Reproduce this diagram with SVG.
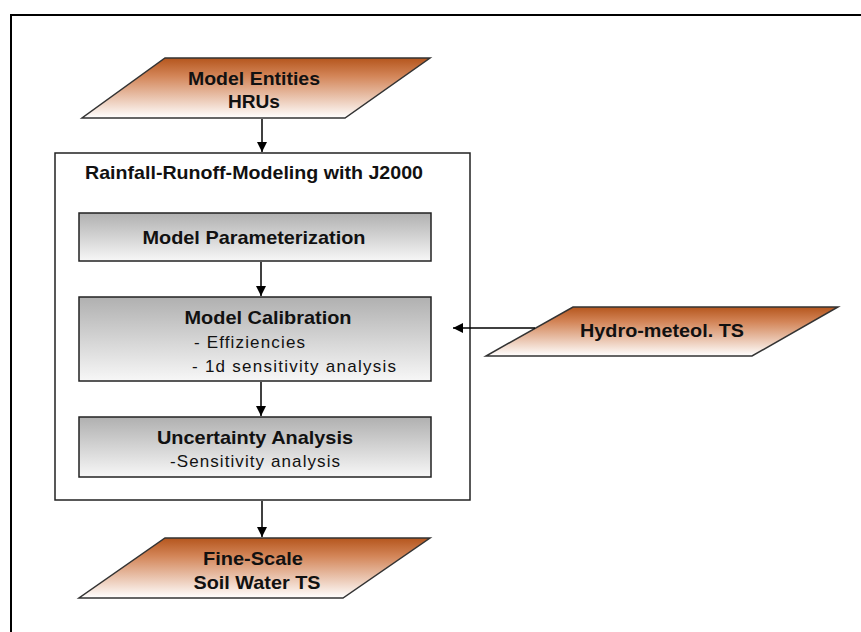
<svg xmlns="http://www.w3.org/2000/svg" width="861" height="632" viewBox="0 0 861 632">
<defs>
<linearGradient id="orange" x1="0" y1="0" x2="0" y2="1">
<stop offset="0" stop-color="#b5561d"/>
<stop offset="0.3" stop-color="#d38558"/>
<stop offset="1" stop-color="#ffffff"/>
</linearGradient>
<linearGradient id="gray" x1="0" y1="0" x2="0" y2="1">
<stop offset="0" stop-color="#b0b0b0"/>
<stop offset="1" stop-color="#f7f7f7"/>
</linearGradient>
<marker id="arr" viewBox="0 0 10 10" refX="10" refY="5" markerWidth="10" markerHeight="10" markerUnits="userSpaceOnUse" orient="auto">
<path d="M0,0 L10,5 L0,10 Z" fill="#000"/>
</marker>
<style>
.para{fill:url(#orange);stroke:#333;stroke-width:1.5}
.box{fill:url(#gray);stroke:#222;stroke-width:1.5}
.b{font-family:"Liberation Sans",Arial,sans-serif;font-weight:bold;font-size:18.5px;fill:#111}
.n{font-family:"Liberation Sans",Arial,sans-serif;font-size:17px;fill:#111}
.c{stroke:#000;stroke-width:1.5;fill:none;marker-end:url(#arr)}
</style>
</defs>
<rect width="861" height="632" fill="#fff"/>
<g id="frame">
<path d="M11,632 L11,15 L861,15" fill="none" stroke="#000" stroke-width="2"/>
</g>
<g id="model-entities">
<polygon class="para" points="165,58 430,58 345,118 82,118"/>
<text class="b" x="254" y="85" text-anchor="middle" textLength="132" lengthAdjust="spacingAndGlyphs">Model Entities</text>
<text class="b" x="254" y="108" text-anchor="middle" textLength="52" lengthAdjust="spacingAndGlyphs">HRUs</text>
</g>
<g id="j2000">
<rect x="55" y="153" width="415" height="347" fill="#fff" stroke="#222" stroke-width="1.5"/>
<text class="b" x="254" y="179" text-anchor="middle" textLength="338" lengthAdjust="spacingAndGlyphs">Rainfall-Runoff-Modeling with J2000</text>
</g>
<g id="parameterization">
<rect class="box" x="79" y="213" width="352" height="48"/>
<text class="b" x="254" y="244" text-anchor="middle" textLength="223" lengthAdjust="spacingAndGlyphs">Model Parameterization</text>
</g>
<g id="calibration">
<rect class="box" x="79" y="297" width="352" height="84"/>
<text class="b" x="268" y="324" text-anchor="middle" textLength="167" lengthAdjust="spacingAndGlyphs">Model Calibration</text>
<text class="n" x="194" y="348" textLength="111" lengthAdjust="spacing">- Effiziencies</text>
<text class="n" x="192" y="372" textLength="204" lengthAdjust="spacing">- 1d sensitivity analysis</text>
</g>
<g id="uncertainty">
<rect class="box" x="79" y="417" width="352" height="60"/>
<text class="b" x="255" y="444" text-anchor="middle" textLength="196" lengthAdjust="spacingAndGlyphs">Uncertainty Analysis</text>
<text class="n" x="255" y="467" text-anchor="middle" textLength="170" lengthAdjust="spacing">-Sensitivity analysis</text>
</g>
<g id="hydro-meteol">
<polygon class="para" points="573,307 838,307 752,356 486,356"/>
<text class="b" x="662" y="337" text-anchor="middle" textLength="164" lengthAdjust="spacingAndGlyphs">Hydro-meteol. TS</text>
</g>
<g id="fine-scale">
<polygon class="para" points="165,538 430,538 343,598 79,598"/>
<text class="b" x="253" y="565" text-anchor="middle" textLength="100" lengthAdjust="spacingAndGlyphs">Fine-Scale</text>
<text class="b" x="257" y="589" text-anchor="middle" textLength="127" lengthAdjust="spacingAndGlyphs">Soil Water TS</text>
</g>
<g id="connectors">
<line class="c" x1="262" y1="119" x2="262" y2="152"/>
<line class="c" x1="261" y1="262" x2="261" y2="296"/>
<line class="c" x1="261" y1="382" x2="261" y2="416"/>
<line class="c" x1="262" y1="501" x2="262" y2="537"/>
<line class="c" x1="535" y1="328" x2="453" y2="328"/>
</g>
</svg>
